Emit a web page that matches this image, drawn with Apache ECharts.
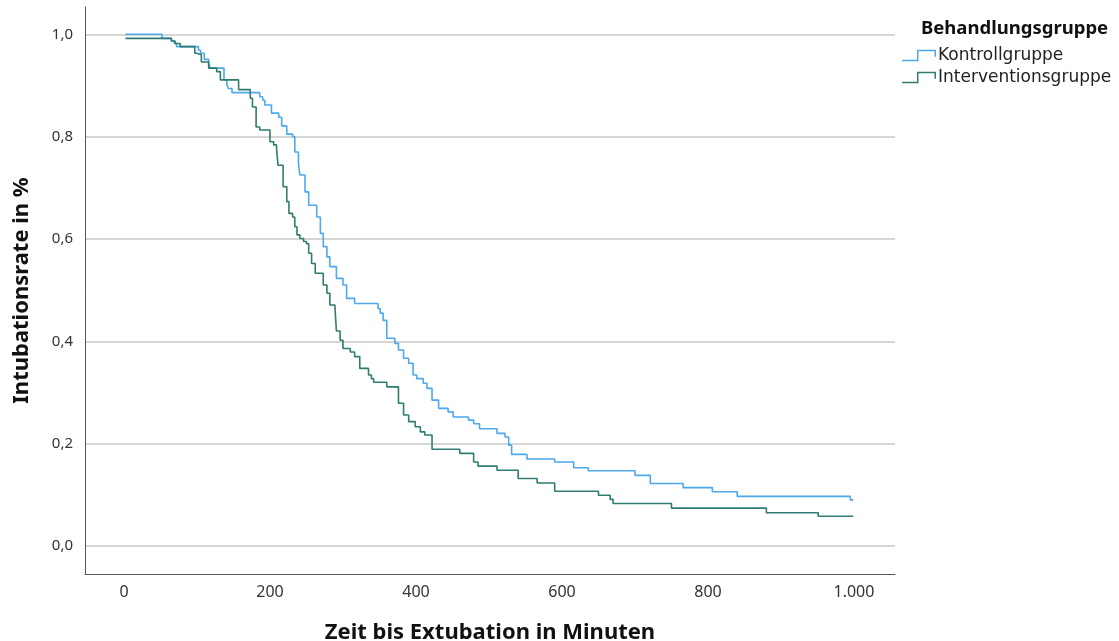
<!DOCTYPE html>
<html>
<head>
<meta charset="utf-8">
<script src="https://cdn.jsdelivr.net/npm/echarts@6/dist/echarts.min.js"></script>
<style>
  html, body { margin: 0; padding: 0; background: #fff; }
  #chart { width: 1119px; height: 641px; }
</style>
</head>
<body>
<div id="chart"></div>
<script>
// Kaplan-Meier Kurven
const kontrollZeit = [2, 52, 65, 69, 72, 102, 105, 110, 116, 118, 137, 141, 143, 148, 186, 190, 193, 202, 212, 216,
  223, 231, 234, 239, 241, 248, 253, 264, 269, 273, 278, 282, 291, 300, 305, 316, 348, 351, 355, 360,
  371, 376, 383, 390, 396, 401, 410, 415, 422, 431, 444, 451, 472, 479, 487, 511, 522, 527, 531, 552,
  590, 616, 636, 700, 721, 766, 806, 840, 995, 999];
const kontrollRate = [1.0, 0.992, 0.987, 0.982, 0.976, 0.969, 0.963, 0.951, 0.943, 0.934, 0.911, 0.901, 0.894, 0.886, 0.878, 0.871, 0.862, 0.846, 0.838, 0.821,
  0.805, 0.800, 0.770, 0.748, 0.725, 0.692, 0.666, 0.643, 0.611, 0.585, 0.565, 0.546, 0.523, 0.510, 0.484, 0.474, 0.464, 0.455, 0.441, 0.406,
  0.396, 0.383, 0.367, 0.357, 0.334, 0.327, 0.318, 0.308, 0.285, 0.269, 0.262, 0.252, 0.246, 0.239, 0.229, 0.220, 0.213, 0.197, 0.179, 0.170,
  0.164, 0.153, 0.147, 0.138, 0.122, 0.114, 0.106, 0.097, 0.090, 0.090];

const interventionZeit = [2, 65, 70, 77, 97, 100, 106, 116, 127, 132, 157, 173, 176, 181, 186, 200, 205, 209, 211, 218,
  223, 226, 231, 234, 237, 241, 246, 250, 253, 257, 262, 273, 278, 282, 289, 291, 296, 300, 310, 316,
  323, 335, 339, 342, 360, 376, 383, 390, 399, 406, 412, 422, 460, 479, 485, 511, 540, 566, 590, 650,
  666, 670, 750, 880, 951, 999];
const interventionRate = [0.992, 0.987, 0.982, 0.976, 0.963, 0.960, 0.946, 0.934, 0.927, 0.911, 0.892, 0.875, 0.858, 0.819, 0.813, 0.790, 0.784, 0.777, 0.744, 0.702,
  0.673, 0.650, 0.643, 0.624, 0.608, 0.601, 0.595, 0.591, 0.572, 0.552, 0.533, 0.510, 0.494, 0.471, 0.467, 0.420, 0.402, 0.386, 0.379, 0.370,
  0.347, 0.334, 0.327, 0.320, 0.311, 0.279, 0.256, 0.243, 0.233, 0.223, 0.217, 0.189, 0.181, 0.164, 0.156, 0.148, 0.132, 0.123, 0.107, 0.099,
  0.091, 0.083, 0.074, 0.065, 0.058, 0.058];

const xTicks = [0, 200, 400, 600, 800, 1000];
const yTicks = [0, 0.2, 0.4, 0.6, 0.8, 1.0];

function pairs(zeit, rate) {
  const n = Math.min(zeit.length, rate.length);
  const out = [];
  for (let i = 0; i < n; i++) out.push([zeit[i], rate[i]]);
  return out;
}

// Treppen-Symbol fuer die Legende
const stepIcon = "path://M0,10 L15,10 L15,0 L34,0 L34,7 L32.5,7 L32.5,1.5 L16.5,1.5 L16.5,11.5 L0,11.5 Z";

const font = "'Noto Sans', 'DejaVu Sans', sans-serif";

const myChart = echarts.init(document.getElementById("chart"));
const option = {
  animation: false,
  color: ["#4DA8EC", "#2E7C72"],
  title: {
    text: "Behandlungsgruppe",
    left: 916,
    top: 14,
    textStyle: { fontFamily: font, fontSize: 18.5, fontWeight: "bold", color: "#111" },
  },
  legend: {
    orient: "vertical",
    left: 897,
    top: 42,
    itemGap: 5,
    itemWidth: 34,
    itemHeight: 13,
    icon: stepIcon,
    textStyle: { fontFamily: "'DejaVu Sans', sans-serif", fontSize: 17, color: "#222", padding: [0, 0, 0, -3] },
    data: ["Kontrollgruppe", "Interventionsgruppe"],
  },
  grid: { left: 85, right: 224, top: 7, bottom: 67, containLabel: false, outerBoundsMode: "none" },
  xAxis: {
    type: "value",
    min: -53.4,
    max: 1056.2,
    name: "Zeit bis Extubation in Minuten",
    nameLocation: "middle",
    nameGap: 48,
    nameTextStyle: { fontFamily: font, fontSize: 22, fontWeight: "bold", color: "#111" },
    axisLine: { show: true, onZero: false, lineStyle: { color: "#555", width: 1 } },
    axisTick: { show: false, customValues: xTicks },
    axisLabel: {
      customValues: xTicks,
      margin: 10,
      fontFamily: font,
      fontSize: 16,
      color: "#333",
      formatter: (v) => v.toLocaleString("de-DE"),
    },
    splitLine: { show: false },
  },
  yAxis: {
    type: "value",
    min: -0.0548,
    max: 1.0534,
    name: "Intubationsrate in %",
    nameLocation: "middle",
    nameGap: 52,
    nameTextStyle: { fontFamily: font, fontSize: 22, fontWeight: "bold", color: "#111" },
    axisLine: { show: true, onZero: false, lineStyle: { color: "#555", width: 1 } },
    axisTick: { show: false, customValues: yTicks },
    axisLabel: {
      customValues: yTicks,
      margin: 12,
      fontFamily: font,
      fontSize: 15,
      color: "#333",
      formatter: (v) => v.toFixed(1).replace(".", ","),
    },
    splitLine: { show: true, lineStyle: { color: "#c9c9c9", width: 1.5 } },
  },
  series: [
    {
      name: "Kontrollgruppe",
      type: "line",
      step: "end",
      showSymbol: false,
      lineStyle: { width: 1.6 },
      data: pairs(kontrollZeit, kontrollRate),
    },
    {
      name: "Interventionsgruppe",
      type: "line",
      step: "end",
      showSymbol: false,
      lineStyle: { width: 1.6 },
      data: pairs(interventionZeit, interventionRate),
    },
  ],
};
myChart.setOption(option);
</script>
</body>
</html>
